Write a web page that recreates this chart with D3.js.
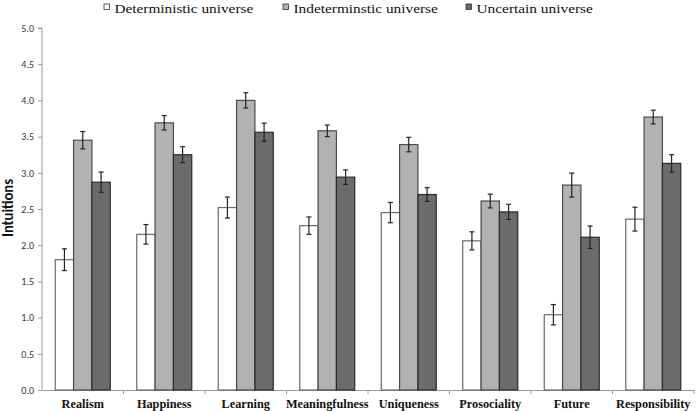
<!DOCTYPE html>
<html><head><meta charset="utf-8">
<script src="https://cdn.jsdelivr.net/npm/d3@7"></script>
<style>body{margin:0;background:#fff}svg{display:block}</style>
</head><body>
<script>
const categories = ["Realism","Happiness","Learning","Meaningfulness","Uniqueness","Prosociality","Future","Responsibility"];
const seriesNames = ["Deterministic universe","Indeterminstic universe","Uncertain universe"];
const deterministic = [1.80,2.15,2.52,2.27,2.45,2.06,1.04,2.36];
const indeterministic = [3.45,3.69,4.00,3.58,3.39,2.61,2.83,3.77];
const uncertain = [2.87,3.25,3.56,2.94,2.70,2.46,2.11,3.13];
const errDet = [0.15,0.135,0.145,0.12,0.14,0.125,0.14,0.165];
const errInd = [0.12,0.10,0.105,0.08,0.10,0.095,0.165,0.095];
const errUnc = [0.14,0.11,0.125,0.10,0.095,0.105,0.155,0.12];
const yTicks = [0,0.5,1,1.5,2,2.5,3,3.5,4,4.5,5];
const colors = ["#ffffff","#b2b2b2","#6b6b6b"];
const strokes = ["#6a6a6a","#4a4a4a","#2a2a2a"];

(function(){
const W=696,H=411;
const svg=d3.select("body").append("svg").attr("width",W).attr("height",H);
const pL=42,pR=694,pT=28,pB=390;
const y=d3.scaleLinear().domain([0,5]).range([pB,pT]);
const x0=d3.scaleBand().domain(categories).range([pL,pR]).padding(0);
const x1=d3.scaleBand().domain([0,1,2]).range([0,55]).padding(0);
const groupOffset=(x0.bandwidth()-55)/2;

const series=[deterministic,indeterministic,uncertain];
const errs=[errDet,errInd,errUnc];

// y axis
const yAxis=d3.axisLeft(y).tickValues(yTicks).tickFormat(d3.format(".1f")).tickSize(4).tickPadding(4);
const gy=svg.append("g").attr("transform",`translate(${pL},0)`).call(yAxis);
gy.select(".domain").attr("stroke","#9a9a9a").attr("d",`M-4,${pT}H0V${pB}`);
gy.selectAll(".tick line").attr("stroke","#9a9a9a");
gy.selectAll(".tick text").attr("font-family","Carlito, 'Open Sans', sans-serif").attr("font-size","10px").attr("fill","#333");

// x axis
const xAxis=d3.axisBottom(x0).tickSize(0).tickFormat("");
const gx=svg.append("g").attr("transform",`translate(0,${pB})`).call(xAxis);
gx.select(".domain").attr("stroke","#9a9a9a");
svg.append("g").selectAll("line").data(categories)
 .join("line")
 .attr("x1",d=>x0(d)+x0.bandwidth()).attr("x2",d=>x0(d)+x0.bandwidth())
 .attr("y1",pB).attr("y2",pB+4).attr("stroke","#9a9a9a");
svg.append("g").selectAll("text").data(categories).join("text")
 .attr("x",d=>x0(d)+x0.bandwidth()/2).attr("y",408)
 .attr("text-anchor","middle")
 .attr("font-family","'Liberation Serif', serif").attr("font-weight","bold").attr("font-size","12.3px").attr("fill","#111")
 .text(d=>d);

// bars
series.forEach((vals,s)=>{
  const g=svg.append("g");
  g.selectAll("rect").data(vals).join("rect")
   .attr("x",(d,i)=>x0(categories[i])+groupOffset+x1(s))
   .attr("y",d=>y(d))
   .attr("width",x1.bandwidth())
   .attr("height",d=>pB-y(d))
   .attr("fill",colors[s]).attr("stroke",strokes[s]).attr("stroke-width",1.2);
});
series.forEach((vals,s)=>{
  const eg=svg.append("g").attr("stroke","#222").attr("stroke-width",1.2);
  vals.forEach((d,i)=>{
    const cx=x0(categories[i])+groupOffset+x1(s)+x1.bandwidth()/2;
    const e=errs[s][i];
    eg.append("line").attr("x1",cx).attr("x2",cx).attr("y1",y(d+e)).attr("y2",y(d-e));
    eg.append("line").attr("x1",cx-2.5).attr("x2",cx+2.5).attr("y1",y(d+e)).attr("y2",y(d+e));
    eg.append("line").attr("x1",cx-2.5).attr("x2",cx+2.5).attr("y1",y(d-e)).attr("y2",y(d-e));
  });
});

// y label
svg.append("text").attr("transform",`translate(13,208) rotate(-90)`)
 .attr("text-anchor","middle").attr("font-family","Carlito, 'Open Sans', sans-serif").attr("font-weight","bold")
 .attr("font-size","15px").attr("fill","#111")
 .attr("textLength",58).attr("lengthAdjust","spacingAndGlyphs").text("Intuitions");

// legend
const legX=[104,283,466];
const legW=[138.7,144.4,116.4];
const leg=svg.append("g");
seriesNames.forEach((n,i)=>{
  leg.append("rect").attr("x",legX[i]).attr("y",4).attr("width",5.5).attr("height",5.5)
   .attr("fill",colors[i]).attr("stroke","#333").attr("stroke-width",0.8);
  leg.append("text").attr("x",legX[i]+10.5).attr("y",12.5)
   .attr("font-family","'Liberation Serif', serif").attr("font-size","13.5px").attr("fill","#111")
   .attr("textLength",legW[i]).attr("lengthAdjust","spacingAndGlyphs").text(n);
});
})();
</script>
</body></html>
